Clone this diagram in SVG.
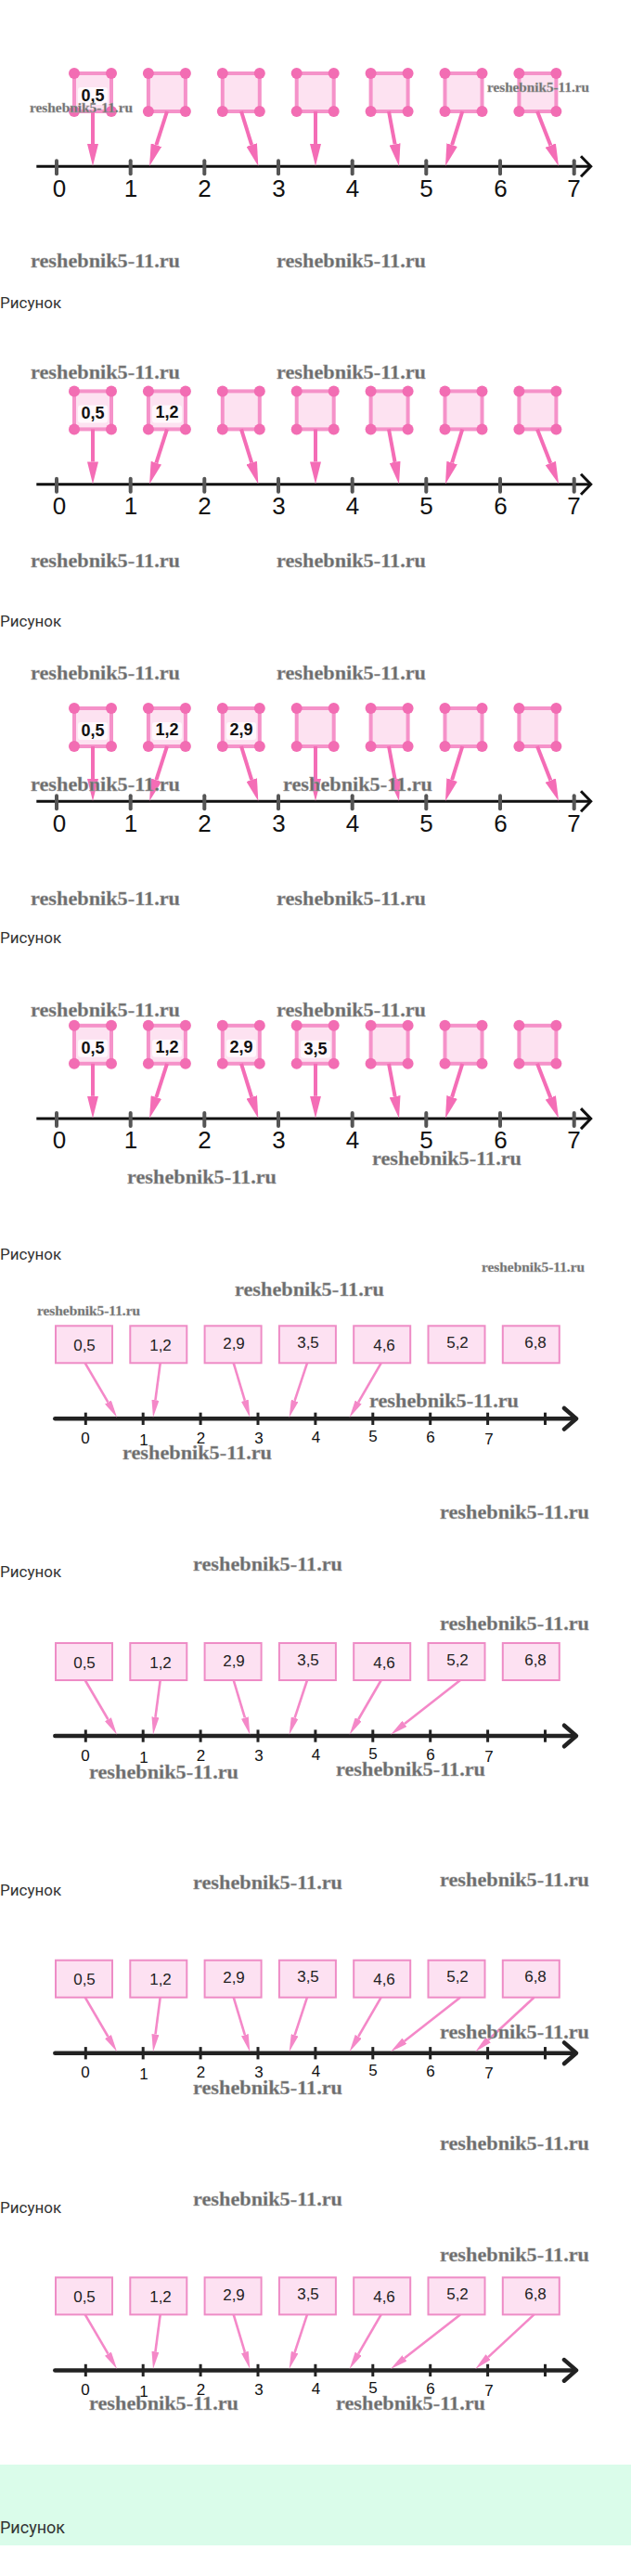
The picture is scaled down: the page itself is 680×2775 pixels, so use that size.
<svg xmlns="http://www.w3.org/2000/svg" xmlns:xlink="http://www.w3.org/1999/xlink" width="680" height="2775" viewBox="0 0 680 2775">
<style>
.wm{font-family:"Liberation Serif",serif;font-weight:bold;fill:#6c6c6c;stroke:#a5a5a5;stroke-width:0.4}
.wl{font-size:22px}
.ws{font-size:15px}
.cap{font-family:Roboto,"Liberation Sans",sans-serif;font-size:17px;fill:#333}
.bx1{fill:#fde2f1;stroke:#f592c9;stroke-width:4}
.dot{fill:#f26db3}
.ar1{stroke:#f46db6;stroke-width:4;fill:none;marker-end:url(#h1)}
.ax1{stroke:#111;stroke-width:3;fill:none}
.tk1{stroke:#555;stroke-width:4;stroke-linecap:round}
.num1{font-family:"Liberation Sans",Arial,sans-serif;font-size:26px;fill:#111;text-anchor:middle}
.lb1{font-family:"Liberation Sans",Arial,sans-serif;font-size:18px;font-weight:bold;fill:#111;text-anchor:middle}
.lbg{fill:#fff;opacity:0.75}
.bx2{fill:#fde1f2;stroke:#ee8cc6;stroke-width:2}
.ar2{stroke:#f488c8;stroke-width:2.6;fill:none;marker-end:url(#h2)}
.ax2{stroke:#222;stroke-width:4.5;stroke-linecap:round;stroke-linejoin:round;fill:none}
.tk2{stroke:#222;stroke-width:3}
.num2{font-family:"Liberation Sans",Arial,sans-serif;font-size:17px;fill:#111;text-anchor:middle}
.lb2{font-family:"Liberation Sans",Arial,sans-serif;font-size:17px;fill:#222;text-anchor:middle}
</style>
<defs>
<marker id="h1" markerUnits="userSpaceOnUse" markerWidth="24" markerHeight="12" refX="0" refY="6" orient="auto"><path d="M0,0 L24,6 L0,12 Z" fill="#f46db6"/></marker>
<marker id="h2" markerUnits="userSpaceOnUse" markerWidth="19" markerHeight="8" refX="0" refY="4" orient="auto"><path d="M0,0 L19,4 L0,8 Z" fill="#f488c8"/></marker>
<g id="sq"><rect class="bx1" x="0" y="0" width="40" height="41"/><circle class="dot" cx="0" cy="0" r="6"/><circle class="dot" cx="40" cy="0" r="6"/><circle class="dot" cx="0" cy="41" r="6"/><circle class="dot" cx="40" cy="41" r="6"/></g>
<g id="axis1">
<line class="ax1" x1="39.3" y1="179.3" x2="636" y2="179.3"/>
<polyline class="ax1" points="626,168.3 636.7,179.3 626,190.3"/>
<line class="tk1" x1="61" y1="173.3" x2="61" y2="187.3"/>
<line class="tk1" x1="140.7" y1="173.3" x2="140.7" y2="187.3"/>
<line class="tk1" x1="220.3" y1="173.3" x2="220.3" y2="187.3"/>
<line class="tk1" x1="300" y1="173.3" x2="300" y2="187.3"/>
<line class="tk1" x1="379.7" y1="173.3" x2="379.7" y2="187.3"/>
<line class="tk1" x1="459.3" y1="173.3" x2="459.3" y2="187.3"/>
<line class="tk1" x1="539" y1="173.3" x2="539" y2="187.3"/>
<line class="tk1" x1="618.7" y1="173.3" x2="618.7" y2="187.3"/>
<text class="num1" x="64" y="211.7">0</text>
<text class="num1" x="141" y="211.7">1</text>
<text class="num1" x="220.5" y="211.7">2</text>
<text class="num1" x="300.5" y="211.7">3</text>
<text class="num1" x="380" y="211.7">4</text>
<text class="num1" x="459.5" y="211.7">5</text>
<text class="num1" x="539.5" y="211.7">6</text>
<text class="num1" x="618.5" y="211.7">7</text>
</g>
<g id="axis2">
<line class="ax2" x1="59.3" y1="1528.3" x2="620" y2="1528.3"/>
<polyline class="ax2" points="608,1517 621,1528.3 608,1539.6"/>
<line class="tk2" x1="92.3" y1="1521.7" x2="92.3" y2="1535"/>
<line class="tk2" x1="154.2" y1="1521.7" x2="154.2" y2="1535"/>
<line class="tk2" x1="216.1" y1="1521.7" x2="216.1" y2="1535"/>
<line class="tk2" x1="278" y1="1521.7" x2="278" y2="1535"/>
<line class="tk2" x1="339.9" y1="1521.7" x2="339.9" y2="1535"/>
<line class="tk2" x1="401.8" y1="1521.7" x2="401.8" y2="1535"/>
<line class="tk2" x1="463.7" y1="1521.7" x2="463.7" y2="1535"/>
<line class="tk2" x1="525.6" y1="1521.7" x2="525.6" y2="1535"/>
<line class="tk2" x1="587.5" y1="1521.7" x2="587.5" y2="1535"/>
<text class="num2" x="92" y="1555">0</text>
<text class="num2" x="155" y="1557">1</text>
<text class="num2" x="216.5" y="1555">2</text>
<text class="num2" x="279" y="1555">3</text>
<text class="num2" x="340.5" y="1554">4</text>
<text class="num2" x="402" y="1553">5</text>
<text class="num2" x="464" y="1554">6</text>
<text class="num2" x="527" y="1556">7</text>
</g>
<g id="boxes2">
<rect class="bx2" x="60" y="1428.3" width="61" height="40"/>
<rect class="bx2" x="140.3" y="1428.3" width="61" height="40"/>
<rect class="bx2" x="220.6" y="1428.3" width="61" height="40"/>
<rect class="bx2" x="300.9" y="1428.3" width="61" height="40"/>
<rect class="bx2" x="381.2" y="1428.3" width="61" height="40"/>
<rect class="bx2" x="461.5" y="1428.3" width="61" height="40"/>
<rect class="bx2" x="541.8" y="1428.3" width="61" height="40"/>
<text class="lb2" x="91" y="1455">0,5</text>
<text class="lb2" x="173" y="1455">1,2</text>
<text class="lb2" x="252" y="1453">2,9</text>
<text class="lb2" x="332" y="1452">3,5</text>
<text class="lb2" x="414" y="1455">4,6</text>
<text class="lb2" x="493" y="1452">5,2</text>
<text class="lb2" x="577" y="1452">6,8</text>
</g>
</defs>

<!-- Panel 1 -->
<g id="panel1">
<use xlink:href="#axis1"/>
<g id="p1-n1"><use xlink:href="#sq" x="80" y="79"/><rect class="lbg" x="84" y="94" width="32" height="19" rx="3"/><text class="lb1" x="100" y="109">0,5</text></g>
<g id="p1-n2"><use xlink:href="#sq" x="159.9" y="79"/></g>
<g id="p1-n3"><use xlink:href="#sq" x="239.8" y="79"/></g>
<g id="p1-n4"><use xlink:href="#sq" x="319.7" y="79"/></g>
<g id="p1-n5"><use xlink:href="#sq" x="399.6" y="79"/></g>
<g id="p1-n6"><use xlink:href="#sq" x="479.5" y="79"/></g>
<g id="p1-n7"><use xlink:href="#sq" x="559.4" y="79"/></g>
<g id="p1-arrows">
<line class="ar1" x1="100" y1="120" x2="100" y2="155"/>
<line class="ar1" x1="180" y1="120" x2="168.4" y2="156.2"/>
<line class="ar1" x1="260" y1="120" x2="271.2" y2="156.1"/>
<line class="ar1" x1="340" y1="120" x2="340" y2="155"/>
<line class="ar1" x1="419" y1="120" x2="425.6" y2="155.4"/>
<line class="ar1" x1="498.3" y1="120" x2="487.1" y2="156.1"/>
<line class="ar1" x1="579" y1="120" x2="593.3" y2="156.6"/>
</g>
</g>

<!-- Panel 2 -->
<g id="panel2" transform="translate(0,342.4)">
<use xlink:href="#axis1"/>
<g id="p2-n1"><use xlink:href="#sq" x="80" y="79"/><rect class="lbg" x="84" y="94" width="32" height="19" rx="3"/><text class="lb1" x="100" y="109">0,5</text></g>
<g id="p2-n2"><use xlink:href="#sq" x="159.9" y="79"/><rect class="lbg" x="164" y="94" width="32" height="19" rx="3"/><text class="lb1" x="180" y="108">1,2</text></g>
<g id="p2-n3"><use xlink:href="#sq" x="239.8" y="79"/></g>
<g id="p2-n4"><use xlink:href="#sq" x="319.7" y="79"/></g>
<g id="p2-n5"><use xlink:href="#sq" x="399.6" y="79"/></g>
<g id="p2-n6"><use xlink:href="#sq" x="479.5" y="79"/></g>
<g id="p2-n7"><use xlink:href="#sq" x="559.4" y="79"/></g>
<g id="p2-arrows">
<line class="ar1" x1="100" y1="120" x2="100" y2="155"/>
<line class="ar1" x1="180" y1="120" x2="168.4" y2="156.2"/>
<line class="ar1" x1="260" y1="120" x2="271.2" y2="156.1"/>
<line class="ar1" x1="340" y1="120" x2="340" y2="155"/>
<line class="ar1" x1="419" y1="120" x2="425.6" y2="155.4"/>
<line class="ar1" x1="498.3" y1="120" x2="487.1" y2="156.1"/>
<line class="ar1" x1="579" y1="120" x2="593.3" y2="156.6"/>
</g>
</g>

<!-- Panel 3 -->
<g id="panel3" transform="translate(0,684)">
<use xlink:href="#axis1"/>
<g id="p3-n1"><use xlink:href="#sq" x="80" y="79"/><rect class="lbg" x="84" y="94" width="32" height="19" rx="3"/><text class="lb1" x="100" y="109">0,5</text></g>
<g id="p3-n2"><use xlink:href="#sq" x="159.9" y="79"/><rect class="lbg" x="164" y="94" width="32" height="19" rx="3"/><text class="lb1" x="180" y="108">1,2</text></g>
<g id="p3-n3"><use xlink:href="#sq" x="239.8" y="79"/><rect class="lbg" x="244" y="94" width="32" height="19" rx="3"/><text class="lb1" x="260" y="108">2,9</text></g>
<g id="p3-n4"><use xlink:href="#sq" x="319.7" y="79"/></g>
<g id="p3-n5"><use xlink:href="#sq" x="399.6" y="79"/></g>
<g id="p3-n6"><use xlink:href="#sq" x="479.5" y="79"/></g>
<g id="p3-n7"><use xlink:href="#sq" x="559.4" y="79"/></g>
<g id="p3-arrows">
<line class="ar1" x1="100" y1="120" x2="100" y2="155"/>
<line class="ar1" x1="180" y1="120" x2="168.4" y2="156.2"/>
<line class="ar1" x1="260" y1="120" x2="271.2" y2="156.1"/>
<line class="ar1" x1="340" y1="120" x2="340" y2="155"/>
<line class="ar1" x1="419" y1="120" x2="425.6" y2="155.4"/>
<line class="ar1" x1="498.3" y1="120" x2="487.1" y2="156.1"/>
<line class="ar1" x1="579" y1="120" x2="593.3" y2="156.6"/>
</g>
</g>

<!-- Panel 4 -->
<g id="panel4" transform="translate(0,1025.8)">
<use xlink:href="#axis1"/>
<g id="p4-n1"><use xlink:href="#sq" x="80" y="79"/><rect class="lbg" x="84" y="94" width="32" height="19" rx="3"/><text class="lb1" x="100" y="109">0,5</text></g>
<g id="p4-n2"><use xlink:href="#sq" x="159.9" y="79"/><rect class="lbg" x="164" y="94" width="32" height="19" rx="3"/><text class="lb1" x="180" y="108">1,2</text></g>
<g id="p4-n3"><use xlink:href="#sq" x="239.8" y="79"/><rect class="lbg" x="244" y="94" width="32" height="19" rx="3"/><text class="lb1" x="260" y="108">2,9</text></g>
<g id="p4-n4"><use xlink:href="#sq" x="319.7" y="79"/><rect class="lbg" x="324" y="95" width="32" height="19" rx="3"/><text class="lb1" x="340" y="110">3,5</text></g>
<g id="p4-n5"><use xlink:href="#sq" x="399.6" y="79"/></g>
<g id="p4-n6"><use xlink:href="#sq" x="479.5" y="79"/></g>
<g id="p4-n7"><use xlink:href="#sq" x="559.4" y="79"/></g>
<g id="p4-arrows">
<line class="ar1" x1="100" y1="120" x2="100" y2="155"/>
<line class="ar1" x1="180" y1="120" x2="168.4" y2="156.2"/>
<line class="ar1" x1="260" y1="120" x2="271.2" y2="156.1"/>
<line class="ar1" x1="340" y1="120" x2="340" y2="155"/>
<line class="ar1" x1="419" y1="120" x2="425.6" y2="155.4"/>
<line class="ar1" x1="498.3" y1="120" x2="487.1" y2="156.1"/>
<line class="ar1" x1="579" y1="120" x2="593.3" y2="156.6"/>
</g>
</g>

<!-- Panel 5 -->
<g id="panel5">
<use xlink:href="#axis2"/>
<g id="p5-nodes"><use xlink:href="#boxes2"/></g>
<g id="p5-arrows">
<line class="ar2" x1="91.7" y1="1468.3" x2="116.45" y2="1510.57"/>
<line class="ar2" x1="172.7" y1="1468.3" x2="167.46" y2="1508.16"/>
<line class="ar2" x1="251.7" y1="1468.3" x2="263.87" y2="1508.79"/>
<line class="ar2" x1="331" y1="1468.3" x2="317.61" y2="1508.94"/>
<line class="ar2" x1="410.7" y1="1468.3" x2="386.19" y2="1510.54"/>
</g>
</g>

<!-- Panel 6 -->
<g id="panel6" transform="translate(0,341.7)">
<use xlink:href="#axis2"/>
<g id="p6-nodes"><use xlink:href="#boxes2"/></g>
<g id="p6-arrows">
<line class="ar2" x1="91.7" y1="1468.3" x2="116.45" y2="1510.57"/>
<line class="ar2" x1="172.7" y1="1468.3" x2="167.46" y2="1508.16"/>
<line class="ar2" x1="251.7" y1="1468.3" x2="263.87" y2="1508.79"/>
<line class="ar2" x1="331" y1="1468.3" x2="317.61" y2="1508.94"/>
<line class="ar2" x1="410.7" y1="1468.3" x2="386.19" y2="1510.54"/>
<line class="ar2" x1="496" y1="1468.3" x2="435.93" y2="1515.25"/>
</g>
</g>

<!-- Panel 7 -->
<g id="panel7" transform="translate(0,683.4)">
<use xlink:href="#axis2"/>
<g id="p7-nodes"><use xlink:href="#boxes2"/></g>
<g id="p7-arrows">
<line class="ar2" x1="91.7" y1="1468.3" x2="116.45" y2="1510.57"/>
<line class="ar2" x1="172.7" y1="1468.3" x2="167.46" y2="1508.16"/>
<line class="ar2" x1="251.7" y1="1468.3" x2="263.87" y2="1508.79"/>
<line class="ar2" x1="331" y1="1468.3" x2="317.61" y2="1508.94"/>
<line class="ar2" x1="410.7" y1="1468.3" x2="386.19" y2="1510.54"/>
<line class="ar2" x1="496" y1="1468.3" x2="435.93" y2="1515.25"/>
<line class="ar2" x1="575.5" y1="1468.3" x2="526.19" y2="1514.03"/>
</g>
</g>

<!-- Panel 8 -->
<g id="panel8" transform="translate(0,1025.1)">
<use xlink:href="#axis2"/>
<g id="p8-nodes"><use xlink:href="#boxes2"/></g>
<g id="p8-arrows">
<line class="ar2" x1="91.7" y1="1468.3" x2="116.45" y2="1510.57"/>
<line class="ar2" x1="172.7" y1="1468.3" x2="167.46" y2="1508.16"/>
<line class="ar2" x1="251.7" y1="1468.3" x2="263.87" y2="1508.79"/>
<line class="ar2" x1="331" y1="1468.3" x2="317.61" y2="1508.94"/>
<line class="ar2" x1="410.7" y1="1468.3" x2="386.19" y2="1510.54"/>
<line class="ar2" x1="496" y1="1468.3" x2="435.93" y2="1515.25"/>
<line class="ar2" x1="575.5" y1="1468.3" x2="526.19" y2="1514.03"/>
</g>
</g>

<!-- Green band -->
<rect id="band" x="0" y="2655" width="680" height="87" fill="#dafcea"/>

<!-- Captions -->
<g id="captions">
<text class="cap" x="0" y="332">Рисунок</text>
<text class="cap" x="0" y="675">Рисунок</text>
<text class="cap" x="0" y="1016">Рисунок</text>
<text class="cap" x="0" y="1357">Рисунок</text>
<text class="cap" x="0" y="1699">Рисунок</text>
<text class="cap" x="0" y="2042">Рисунок</text>
<text class="cap" x="0" y="2384">Рисунок</text>
<text class="cap" x="0" y="2729" style="font-size:18px">Рисунок</text>
</g>

<!-- Watermarks -->
<g id="watermarks">
<text class="wm ws" x="32" y="121" textLength="111" lengthAdjust="spacingAndGlyphs">reshebnik5-11.ru</text>
<text class="wm ws" x="525" y="99" textLength="110" lengthAdjust="spacingAndGlyphs">reshebnik5-11.ru</text>
<text class="wm wl" x="33" y="288" textLength="161" lengthAdjust="spacingAndGlyphs">reshebnik5-11.ru</text>
<text class="wm wl" x="298" y="288" textLength="161" lengthAdjust="spacingAndGlyphs">reshebnik5-11.ru</text>
<text class="wm wl" x="33" y="408" textLength="161" lengthAdjust="spacingAndGlyphs">reshebnik5-11.ru</text>
<text class="wm wl" x="298" y="408" textLength="161" lengthAdjust="spacingAndGlyphs">reshebnik5-11.ru</text>
<text class="wm wl" x="33" y="611" textLength="161" lengthAdjust="spacingAndGlyphs">reshebnik5-11.ru</text>
<text class="wm wl" x="298" y="611" textLength="161" lengthAdjust="spacingAndGlyphs">reshebnik5-11.ru</text>
<text class="wm wl" x="33" y="732" textLength="161" lengthAdjust="spacingAndGlyphs">reshebnik5-11.ru</text>
<text class="wm wl" x="298" y="732" textLength="161" lengthAdjust="spacingAndGlyphs">reshebnik5-11.ru</text>
<text class="wm wl" x="33" y="852" textLength="161" lengthAdjust="spacingAndGlyphs">reshebnik5-11.ru</text>
<text class="wm wl" x="305" y="852" textLength="161" lengthAdjust="spacingAndGlyphs">reshebnik5-11.ru</text>
<text class="wm wl" x="33" y="975" textLength="161" lengthAdjust="spacingAndGlyphs">reshebnik5-11.ru</text>
<text class="wm wl" x="298" y="975" textLength="161" lengthAdjust="spacingAndGlyphs">reshebnik5-11.ru</text>
<text class="wm wl" x="33" y="1095" textLength="161" lengthAdjust="spacingAndGlyphs">reshebnik5-11.ru</text>
<text class="wm wl" x="298" y="1095" textLength="161" lengthAdjust="spacingAndGlyphs">reshebnik5-11.ru</text>
<text class="wm wl" x="401" y="1255" textLength="161" lengthAdjust="spacingAndGlyphs">reshebnik5-11.ru</text>
<text class="wm wl" x="137" y="1275" textLength="161" lengthAdjust="spacingAndGlyphs">reshebnik5-11.ru</text>
<text class="wm ws" x="519" y="1370" textLength="111" lengthAdjust="spacingAndGlyphs">reshebnik5-11.ru</text>
<text class="wm wl" x="253" y="1396" textLength="161" lengthAdjust="spacingAndGlyphs">reshebnik5-11.ru</text>
<text class="wm ws" x="40" y="1417" textLength="111" lengthAdjust="spacingAndGlyphs">reshebnik5-11.ru</text>
<text class="wm wl" x="398" y="1516" textLength="161" lengthAdjust="spacingAndGlyphs">reshebnik5-11.ru</text>
<text class="wm wl" x="132" y="1572" textLength="161" lengthAdjust="spacingAndGlyphs">reshebnik5-11.ru</text>
<text class="wm wl" x="474" y="1636" textLength="161" lengthAdjust="spacingAndGlyphs">reshebnik5-11.ru</text>
<text class="wm wl" x="208" y="1692" textLength="161" lengthAdjust="spacingAndGlyphs">reshebnik5-11.ru</text>
<text class="wm wl" x="474" y="1756" textLength="161" lengthAdjust="spacingAndGlyphs">reshebnik5-11.ru</text>
<text class="wm wl" x="96" y="1916" textLength="161" lengthAdjust="spacingAndGlyphs">reshebnik5-11.ru</text>
<text class="wm wl" x="362" y="1913" textLength="161" lengthAdjust="spacingAndGlyphs">reshebnik5-11.ru</text>
<text class="wm wl" x="208" y="2035" textLength="161" lengthAdjust="spacingAndGlyphs">reshebnik5-11.ru</text>
<text class="wm wl" x="474" y="2032" textLength="161" lengthAdjust="spacingAndGlyphs">reshebnik5-11.ru</text>
<text class="wm wl" x="474" y="2196" textLength="161" lengthAdjust="spacingAndGlyphs">reshebnik5-11.ru</text>
<text class="wm wl" x="208" y="2256" textLength="161" lengthAdjust="spacingAndGlyphs">reshebnik5-11.ru</text>
<text class="wm wl" x="474" y="2316" textLength="161" lengthAdjust="spacingAndGlyphs">reshebnik5-11.ru</text>
<text class="wm wl" x="208" y="2376" textLength="161" lengthAdjust="spacingAndGlyphs">reshebnik5-11.ru</text>
<text class="wm wl" x="474" y="2436" textLength="161" lengthAdjust="spacingAndGlyphs">reshebnik5-11.ru</text>
<text class="wm wl" x="96" y="2596" textLength="161" lengthAdjust="spacingAndGlyphs">reshebnik5-11.ru</text>
<text class="wm wl" x="362" y="2596" textLength="161" lengthAdjust="spacingAndGlyphs">reshebnik5-11.ru</text>
</g>
</svg>
